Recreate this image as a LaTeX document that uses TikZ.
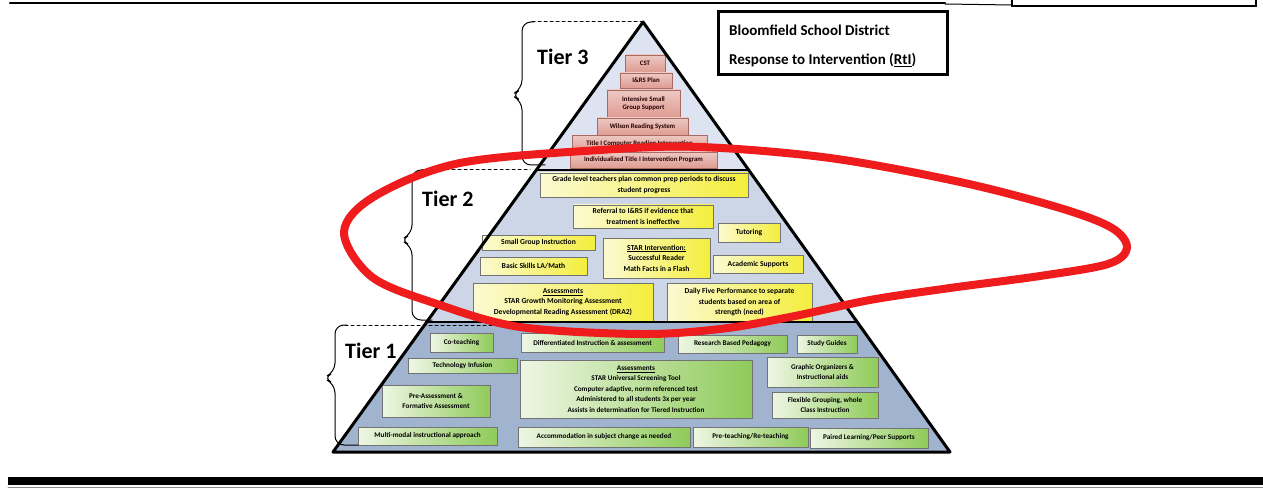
\documentclass[tikz,border=0pt]{standalone}
\usepackage{fontspec}
\setmainfont{Carlito}
\usepackage{tikz}
\usetikzlibrary{calc}
\usepackage{color}

\definecolor{tierthreebg}{HTML}{DDE3F1}
\definecolor{tiertwobg}{HTML}{CDD6E6}
\definecolor{tieronebg}{HTML}{A0B4D0}
\definecolor{pinkfill}{HTML}{DE9C92}
\definecolor{pinkedge}{HTML}{A86A62}
\definecolor{paleyellow}{HTML}{FBFAD2}
\definecolor{deepyellow}{HTML}{F4EE3C}
\definecolor{palegreen}{HTML}{EEF6E4}
\definecolor{deepgreen}{HTML}{8FCB5A}
\definecolor{circlered}{HTML}{EE1C1C}

\begin{document}
\begin{tikzpicture}
		[x=1pt,y=-1pt,line cap=round,
		%Styles
		boxsize/.style 2 args={minimum width=#1,minimum height=#2},
		basebox/.style={draw=black!55,line width=0.5,inner sep=0.5pt,align=center,font=\bfseries},
		tierthree box/.style={basebox,top color=pinkfill!55!white,bottom color=pinkfill,draw=pinkedge,
			font=\fontsize{6.8}{8}\selectfont\bfseries,text=black!85!red},
		tiertwo box/.style={basebox,left color=paleyellow,right color=deepyellow,
			font=\fontsize{7.6}{10.5}\selectfont\bfseries},
		tierone box/.style={basebox,left color=palegreen,right color=deepgreen,
			font=\fontsize{7.2}{10.5}\selectfont\bfseries},
		tier label/.style={font=\fontsize{22}{22}\selectfont\bfseries,inner sep=0pt},
		tier brace/.style={line width=1,rounded corners=9},
		title text/.style={anchor=west,font=\fontsize{15}{15}\selectfont\bfseries,inner sep=0pt}
		]
		
		\useasboundingbox (0,0) rectangle (1263,489);
		
		%Page rules
		\draw[line width=2.5] (10,3) -- (945,3);
		\draw[line width=1] (945,4) -- (1012,5);
		\draw[line width=2] (1012,0) -- (1012,6) -- (1256,6) -- (1256,0);
		\fill (8,477) rectangle (1263,485);
		\draw[black!45,line width=0.8] (8,487) -- (1263,487);
		
		%The pyramid
		\coordinate (apex) at (643,22);
		\coordinate (bl) at (333,452);
		\coordinate (br) at (950,452);
		\coordinate (l32) at ($(apex)!0.3442!(bl)$);
		\coordinate (r32) at ($(apex)!0.3442!(br)$);
		\coordinate (l21) at ($(apex)!0.6977!(bl)$);
		\coordinate (r21) at ($(apex)!0.6977!(br)$);
		
		\fill[tierthreebg] (apex) -- (l32) -- (r32) -- cycle;
		\fill[tiertwobg] (l32) -- (l21) -- (r21) -- (r32) -- cycle;
		\fill[tieronebg] (l21) -- (bl) -- (br) -- (r21) -- cycle;
		
		%Tier 3
		\node[tierthree box,boxsize={40}{17}] (cst) at (645,63.5) {CST};
		\node[tierthree box,boxsize={52}{15}] (irs) at (646,80.5) {I\&RS Plan};
		\node[tierthree box,boxsize={73}{27}] (intensive) at (643.5,103.5) {Intensive Small\\Group Support};
		\node[tierthree box,boxsize={91}{17}] (wilson) at (642.5,126.5) {Wilson Reading System};
		\node[tierthree box,boxsize={135}{16}] (computer) at (639.5,143.5) {Title I Computer Reading Intervention};
		\node[tierthree box,boxsize={147}{16}] (titleone) at (643.5,160) {Individualized Title I Intervention Program};
		
		%Tier 2
		\node[tiertwo box,boxsize={208}{24}] (grade) at (644,185) {Grade level teachers plan common prep periods to discuss\\student progress};
		\node[tiertwo box,boxsize={140}{23}] (referral) at (643,216.5) {Referral to I\&RS if evidence that\\treatment is ineffective};
		\node[tiertwo box,boxsize={62}{19}] (tutoring) at (749,232.5) {Tutoring};
		\node[tiertwo box,boxsize={113}{15}] (smallgroup) at (538.5,242.5) {Small Group Instruction};
		\node[tiertwo box,boxsize={107}{18}] (basicskills) at (533.5,266) {Basic Skills LA/Math};
		\node[tiertwo box,boxsize={107}{40}] (starint) at (656.5,258) {\underline{STAR Intervention:}\\Successful Reader\\Math Facts in a Flash};
		\node[tiertwo box,boxsize={90}{18}] (academic) at (758,264) {Academic Supports};
		\node[tiertwo box,boxsize={180}{38}] (growth) at (563,302) {\underline{Assessments}\\STAR Growth Monitoring Assessment\\Developmental Reading Assessment (DRA2)};
		\node[tiertwo box,boxsize={145}{38}] (dailyfive) at (739.5,302) {Daily Five Performance to separate\\students based on area of\\strength (need)};
		
		%Tier 1
		\node[tierone box,boxsize={63}{19}] (coteach) at (461.5,342.5) {Co-teaching};
		\node[tierone box,boxsize={143}{19}] (diff) at (592.5,342.5) {Differentiated Instruction \& assessment};
		\node[tierone box,boxsize={109}{18}] (research) at (732.5,344) {Research Based Pedagogy};
		\node[tierone box,boxsize={60}{18}] (guides) at (827,344) {Study Guides};
		\node[tierone box,boxsize={109}{15}] (tech) at (462.5,365.5) {Technology Infusion};
		\node[tierone box,boxsize={232}{58}] (screening) at (636,389) {\underline{Assessments}\\STAR Universal Screening Tool\\Computer adaptive, norm referenced test\\Administered to all students 3x per year\\Assists in determination for Tiered Instruction};
		\node[tierone box,boxsize={111}{30}] (organizers) at (822.5,372) {Graphic Organizers \&\\Instructional aids};
		\node[tierone box,boxsize={106}{26}] (grouping) at (825,405) {Flexible Grouping, whole\\Class Instruction};
		\node[tierone box,boxsize={108}{32}] (preassess) at (436,401) {Pre-Assessment \&\\Formative Assessment};
		\node[tierone box,boxsize={139}{18}] (multimodal) at (427.5,436) {Multi-modal instructional approach};
		\node[tierone box,boxsize={172}{20}] (accommodate) at (604,437) {Accommodation in subject change as needed};
		\node[tierone box,boxsize={115}{20}] (preteach) at (750.5,437) {Pre-teaching/Re-teaching};
		\node[tierone box,boxsize={118}{20}] (paired) at (869,438) {Paired Learning/Peer Supports};
		
		%Outline and tier dividers
		\draw[line width=3,line join=round] (apex) -- (bl) -- (br) -- cycle;
		\draw[line width=2.2] (l32) -- (r32);
		\draw[line width=2.8] (l21) -- (r21);
		
		%Braces and tier names
		\draw[dashed,line width=1] (532,22) -- (apex);
		\draw[tier brace] (534,22) -- (522,22) -- (522,89) -- (511,95) -- (522,101) -- (522,165) -- (545,165);
		\node[tier label,anchor=west] (tier3) at (537,57) {Tier 3};
		
		\draw[dashed,line width=1] (422,170) -- (530,170);
		\draw[tier brace] (424,170) -- (412,170) -- (412,234) -- (400,240) -- (412,246) -- (412,320) -- (432,320);
		\node[tier label,anchor=west] (tier2) at (422,199) {Tier 2};
		
		\draw[dashed,line width=1] (345,325) -- (505,325);
		\draw[tier brace] (347,325) -- (335,325) -- (335,372) -- (323,378) -- (335,384) -- (335,445) -- (358,445);
		\node[tier label,anchor=west] (tier1) at (345,351) {Tier 1};
		
		%Title box
		\node[draw,line width=3,boxsize={229}{63}] (titlebox) at (832.5,43.5) {};
		\node[title text] (district) at (729,30) {Bloomfield School District};
		\node[title text] (rti) at (729,60) {Response to Intervention (\underline{RtI})};
		
		%Tier 2 circled by hand
		\draw[circlered,line width=8,line join=round] plot[smooth cycle,tension=0.55] coordinates {
			(344,232) (375,196) (460,163) (600,150) (700,147) (830,158) (960,182)
			(1060,208) (1112,228) (1127,248) (1108,264) (1040,276) (950,288)
			(870,300) (790,317) (720,329) (640,334) (520,327) (437,304) (372,277)};
	\end{tikzpicture}
\end{document}
